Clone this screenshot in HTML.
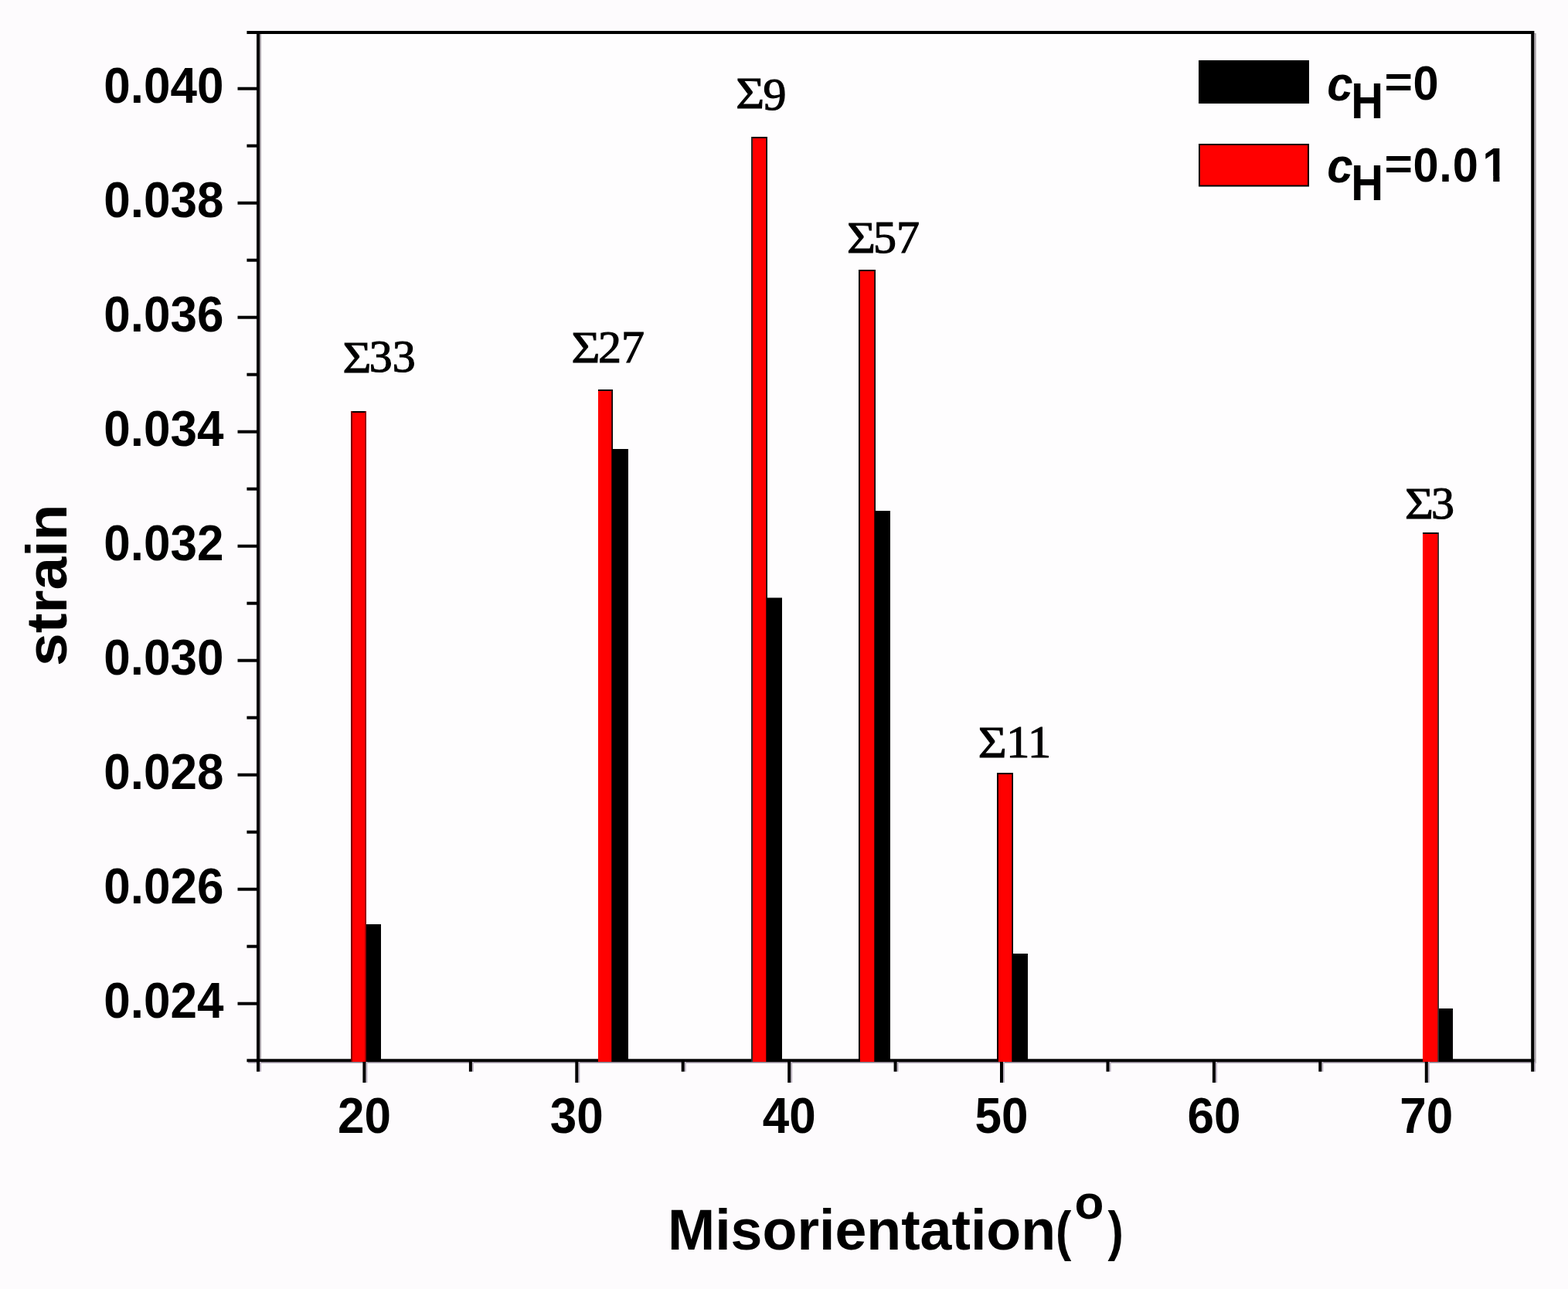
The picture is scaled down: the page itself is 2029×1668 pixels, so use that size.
<!DOCTYPE html>
<html><head><meta charset="utf-8"><title>strain vs misorientation</title>
<style>html,body{margin:0;padding:0;background:#fdfbfd;}svg{display:block;}</style>
</head><body>
<svg width="2029" height="1668" viewBox="0 0 2029 1668">
<rect x="0" y="0" width="2029" height="1668" fill="#fdfbfd"/>
<rect x="334.0" y="42.0" width="1649.2" height="1330.3" fill="#fefdfe"/>
<rect x="336.0" y="42.0" width="2" height="1334.0" fill="#a8a2a8"/>
<rect x="1985.2" y="43.0" width="2.5" height="1333.0" fill="#a8a2a8"/>
<rect x="321" y="1374" width="1664.2" height="2" fill="#bdb4c2"/>
<rect x="332.0" y="40.0" width="4" height="1334.3" fill="#000"/>
<rect x="1981.2" y="40.0" width="4" height="1334.3" fill="#000"/>
<rect x="332.0" y="40.0" width="1653.2" height="4" fill="#000"/>
<rect x="332.0" y="1370.3" width="1653.2" height="4" fill="#000"/>
<rect x="454" y="532" width="20" height="842" fill="#ff0000"/>
<rect x="454" y="532" width="20" height="2" fill="#000"/>
<rect x="454" y="532" width="2" height="842" fill="#7a0000"/>
<rect x="472.3" y="532" width="1.7" height="842" fill="#8a0000"/>
<rect x="474" y="1196" width="19" height="178" fill="#000"/>
<rect x="774" y="504" width="19" height="870" fill="#ff0000"/>
<rect x="774" y="504" width="19" height="2" fill="#000"/>
<rect x="791.3" y="504" width="1.7" height="870" fill="#000"/>
<rect x="793" y="581" width="20" height="793" fill="#000"/>
<rect x="972" y="177" width="21" height="1197" fill="#ff0000"/>
<rect x="972" y="177" width="21" height="2" fill="#000"/>
<rect x="972" y="177" width="2" height="1197" fill="#2a2a2a"/>
<rect x="991.3" y="177" width="1.7" height="1197" fill="#000"/>
<rect x="993" y="773.5" width="19" height="600.5" fill="#000"/>
<rect x="1111" y="349" width="22" height="1025" fill="#ff0000"/>
<rect x="1111" y="349" width="22" height="2" fill="#000"/>
<rect x="1111" y="349" width="2" height="1025" fill="#000"/>
<rect x="1131.3" y="349" width="1.7" height="1025" fill="#000"/>
<rect x="1133" y="661" width="19" height="713" fill="#000"/>
<rect x="1290" y="1000" width="21" height="374" fill="#ff0000"/>
<rect x="1290" y="1000" width="21" height="2" fill="#000"/>
<rect x="1290" y="1000" width="2" height="374" fill="#000"/>
<rect x="1309.3" y="1000" width="1.7" height="374" fill="#000"/>
<rect x="1311" y="1234" width="19" height="140" fill="#000"/>
<rect x="1841" y="689" width="21" height="685" fill="#ff0000"/>
<rect x="1841" y="689" width="21" height="2" fill="#000"/>
<rect x="1860.3" y="689" width="1.7" height="685" fill="#303030"/>
<rect x="1862" y="1305" width="18" height="69" fill="#000"/>
<rect x="319.4" y="1370.3" width="14.6" height="4" fill="#000"/>
<rect x="307.5" y="1296.7" width="26.5" height="4" fill="#000"/>
<rect x="319.4" y="1222.7" width="14.6" height="4" fill="#000"/>
<rect x="307.5" y="1148.7" width="26.5" height="4" fill="#000"/>
<rect x="319.4" y="1074.7" width="14.6" height="4" fill="#000"/>
<rect x="307.5" y="1000.7" width="26.5" height="4" fill="#000"/>
<rect x="319.4" y="926.7" width="14.6" height="4" fill="#000"/>
<rect x="307.5" y="852.7" width="26.5" height="4" fill="#000"/>
<rect x="319.4" y="778.7" width="14.6" height="4" fill="#000"/>
<rect x="307.5" y="704.7" width="26.5" height="4" fill="#000"/>
<rect x="319.4" y="630.7" width="14.6" height="4" fill="#000"/>
<rect x="307.5" y="556.7" width="26.5" height="4" fill="#000"/>
<rect x="319.4" y="482.7" width="14.6" height="4" fill="#000"/>
<rect x="307.5" y="408.7" width="26.5" height="4" fill="#000"/>
<rect x="319.4" y="334.7" width="14.6" height="4" fill="#000"/>
<rect x="307.5" y="260.7" width="26.5" height="4" fill="#000"/>
<rect x="319.4" y="186.7" width="14.6" height="4" fill="#000"/>
<rect x="307.5" y="112.7" width="26.5" height="4" fill="#000"/>
<rect x="319.4" y="40.0" width="14.6" height="4" fill="#000"/>
<rect x="336.0" y="1374" width="2" height="12.7" fill="#bdb4c2"/>
<rect x="332.0" y="1374" width="4" height="12.7" fill="#000"/>
<rect x="473.4" y="1374" width="2" height="27" fill="#bdb4c2"/>
<rect x="469.4" y="1374" width="4" height="27" fill="#000"/>
<rect x="610.9" y="1374" width="2" height="12.7" fill="#bdb4c2"/>
<rect x="606.9" y="1374" width="4" height="12.7" fill="#000"/>
<rect x="748.3" y="1374" width="2" height="27" fill="#bdb4c2"/>
<rect x="744.3" y="1374" width="4" height="27" fill="#000"/>
<rect x="885.7" y="1374" width="2" height="12.7" fill="#bdb4c2"/>
<rect x="881.7" y="1374" width="4" height="12.7" fill="#000"/>
<rect x="1023.2" y="1374" width="2" height="27" fill="#bdb4c2"/>
<rect x="1019.2" y="1374" width="4" height="27" fill="#000"/>
<rect x="1160.6" y="1374" width="2" height="12.7" fill="#bdb4c2"/>
<rect x="1156.6" y="1374" width="4" height="12.7" fill="#000"/>
<rect x="1298.0" y="1374" width="2" height="27" fill="#bdb4c2"/>
<rect x="1294.0" y="1374" width="4" height="27" fill="#000"/>
<rect x="1435.5" y="1374" width="2" height="12.7" fill="#bdb4c2"/>
<rect x="1431.5" y="1374" width="4" height="12.7" fill="#000"/>
<rect x="1572.9" y="1374" width="2" height="27" fill="#bdb4c2"/>
<rect x="1568.9" y="1374" width="4" height="27" fill="#000"/>
<rect x="1710.3" y="1374" width="2" height="12.7" fill="#bdb4c2"/>
<rect x="1706.3" y="1374" width="4" height="12.7" fill="#000"/>
<rect x="1847.8" y="1374" width="2" height="27" fill="#bdb4c2"/>
<rect x="1843.8" y="1374" width="4" height="27" fill="#000"/>
<rect x="1985.2" y="1374" width="2" height="12.7" fill="#bdb4c2"/>
<rect x="1981.2" y="1374" width="4" height="12.7" fill="#000"/>
<text transform="translate(289.50,1316.50) scale(1.0,1.04)" font-family="'Liberation Sans', Arial, Helvetica, sans-serif" font-size="62" font-weight="bold" text-anchor="end">0.024</text>
<text transform="translate(289.50,1168.50) scale(1.0,1.04)" font-family="'Liberation Sans', Arial, Helvetica, sans-serif" font-size="62" font-weight="bold" text-anchor="end">0.026</text>
<text transform="translate(289.50,1020.50) scale(1.0,1.04)" font-family="'Liberation Sans', Arial, Helvetica, sans-serif" font-size="62" font-weight="bold" text-anchor="end">0.028</text>
<text transform="translate(289.50,872.50) scale(1.0,1.04)" font-family="'Liberation Sans', Arial, Helvetica, sans-serif" font-size="62" font-weight="bold" text-anchor="end">0.030</text>
<text transform="translate(289.50,724.50) scale(1.0,1.04)" font-family="'Liberation Sans', Arial, Helvetica, sans-serif" font-size="62" font-weight="bold" text-anchor="end">0.032</text>
<text transform="translate(289.50,576.50) scale(1.0,1.04)" font-family="'Liberation Sans', Arial, Helvetica, sans-serif" font-size="62" font-weight="bold" text-anchor="end">0.034</text>
<text transform="translate(289.50,428.50) scale(1.0,1.04)" font-family="'Liberation Sans', Arial, Helvetica, sans-serif" font-size="62" font-weight="bold" text-anchor="end">0.036</text>
<text transform="translate(289.50,280.50) scale(1.0,1.04)" font-family="'Liberation Sans', Arial, Helvetica, sans-serif" font-size="62" font-weight="bold" text-anchor="end">0.038</text>
<text transform="translate(289.50,132.50) scale(1.0,1.04)" font-family="'Liberation Sans', Arial, Helvetica, sans-serif" font-size="62" font-weight="bold" text-anchor="end">0.040</text>
<text transform="translate(471.43,1466.00) scale(1.0,1.04)" font-family="'Liberation Sans', Arial, Helvetica, sans-serif" font-size="62" font-weight="bold" text-anchor="middle">20</text>
<text transform="translate(746.30,1466.00) scale(1.0,1.04)" font-family="'Liberation Sans', Arial, Helvetica, sans-serif" font-size="62" font-weight="bold" text-anchor="middle">30</text>
<text transform="translate(1021.17,1466.00) scale(1.0,1.04)" font-family="'Liberation Sans', Arial, Helvetica, sans-serif" font-size="62" font-weight="bold" text-anchor="middle">40</text>
<text transform="translate(1296.03,1466.00) scale(1.0,1.04)" font-family="'Liberation Sans', Arial, Helvetica, sans-serif" font-size="62" font-weight="bold" text-anchor="middle">50</text>
<text transform="translate(1570.90,1466.00) scale(1.0,1.04)" font-family="'Liberation Sans', Arial, Helvetica, sans-serif" font-size="62" font-weight="bold" text-anchor="middle">60</text>
<text transform="translate(1845.77,1466.00) scale(1.0,1.04)" font-family="'Liberation Sans', Arial, Helvetica, sans-serif" font-size="62" font-weight="bold" text-anchor="middle">70</text>
<text transform="translate(86.00,757.20) rotate(-90) scale(1.037,1.0)" font-family="'Liberation Sans', Arial, Helvetica, sans-serif" font-size="74.2" font-weight="bold" text-anchor="middle">strain</text>
<text transform="translate(864.00,1617.30) scale(1.0,1.02)" font-family="'Liberation Sans', Arial, Helvetica, sans-serif" font-size="73.5" font-weight="bold">Misorientation</text>
<text transform="translate(1365.96,1617.30) scale(0.83,0.965)" font-family="'Liberation Sans', Arial, Helvetica, sans-serif" font-size="73.5" font-weight="bold">(</text>
<text transform="translate(1390.50,1577.20)" font-family="'Liberation Sans', Arial, Helvetica, sans-serif" font-size="62" font-weight="bold">o</text>
<text transform="translate(1433.44,1617.30) scale(0.83,0.965)" font-family="'Liberation Sans', Arial, Helvetica, sans-serif" font-size="73.5" font-weight="bold">)</text>
<text transform="translate(443.57,481.75) scale(1.06,0.95)" font-family="'Liberation Serif', 'Times New Roman', serif" font-size="60" stroke="#000" stroke-width="1.1">Σ</text>
<text transform="translate(477.73,481.30)" font-family="'Liberation Serif', 'Times New Roman', serif" font-size="60" stroke="#000" stroke-width="1.2">33</text>
<text transform="translate(739.57,469.05) scale(1.06,0.95)" font-family="'Liberation Serif', 'Times New Roman', serif" font-size="60" stroke="#000" stroke-width="1.1">Σ</text>
<text transform="translate(774.06,469.00)" font-family="'Liberation Serif', 'Times New Roman', serif" font-size="60" stroke="#000" stroke-width="1.2">27</text>
<text transform="translate(952.37,140.35) scale(1.06,0.95)" font-family="'Liberation Serif', 'Times New Roman', serif" font-size="60" stroke="#000" stroke-width="1.1">Σ</text>
<text transform="translate(987.57,141.50)" font-family="'Liberation Serif', 'Times New Roman', serif" font-size="60" stroke="#000" stroke-width="1.2">9</text>
<text transform="translate(1096.07,327.15) scale(1.06,0.95)" font-family="'Liberation Serif', 'Times New Roman', serif" font-size="60" stroke="#000" stroke-width="1.1">Σ</text>
<text transform="translate(1130.01,326.90)" font-family="'Liberation Serif', 'Times New Roman', serif" font-size="60" stroke="#000" stroke-width="1.2">57</text>
<text transform="translate(1265.77,980.35) scale(1.06,0.95)" font-family="'Liberation Serif', 'Times New Roman', serif" font-size="60" stroke="#000" stroke-width="1.1">Σ</text>
<text transform="translate(1302.13,980.30)" font-family="'Liberation Serif', 'Times New Roman', serif" font-size="60" stroke="#000" stroke-width="1.2">11</text>
<text transform="translate(1817.97,670.55) scale(1.06,0.95)" font-family="'Liberation Serif', 'Times New Roman', serif" font-size="60" stroke="#000" stroke-width="1.1">Σ</text>
<text transform="translate(1851.93,670.90)" font-family="'Liberation Serif', 'Times New Roman', serif" font-size="60" stroke="#000" stroke-width="1.2">3</text>
<rect x="1551" y="78" width="143" height="56" fill="#000"/>
<rect x="1551" y="186" width="143" height="55.5" fill="#000"/>
<rect x="1553" y="188" width="139" height="51.5" fill="#ff0000"/>
<defs><clipPath id="one" clipPathUnits="userSpaceOnUse"><rect x="-10" y="-80" width="60" height="73.03"/><rect x="13.89" y="-7.07" width="8.16" height="12.07"/></clipPath></defs>
<text transform="translate(1717.20,129.50) scale(1.0,1.05)" font-family="'Liberation Sans', Arial, Helvetica, sans-serif" font-size="60" font-weight="bold" font-style="italic">c</text>
<text transform="translate(1748.20,152.50) scale(0.965,1.07)" font-family="'Liberation Sans', Arial, Helvetica, sans-serif" font-size="60" font-weight="bold">H</text>
<text transform="translate(1791.50,124.70) scale(1.04,0.92)" font-family="'Liberation Sans', Arial, Helvetica, sans-serif" font-size="60" font-weight="bold">=</text>
<text transform="translate(1828.45,128.50) scale(1.0,1.064)" font-family="'Liberation Sans', Arial, Helvetica, sans-serif" font-size="59.5" font-weight="bold">0</text>
<text transform="translate(1717.20,236.20) scale(1.0,1.05)" font-family="'Liberation Sans', Arial, Helvetica, sans-serif" font-size="60" font-weight="bold" font-style="italic">c</text>
<text transform="translate(1748.20,259.20) scale(0.965,1.07)" font-family="'Liberation Sans', Arial, Helvetica, sans-serif" font-size="60" font-weight="bold">H</text>
<text transform="translate(1791.50,231.40) scale(1.04,0.92)" font-family="'Liberation Sans', Arial, Helvetica, sans-serif" font-size="60" font-weight="bold">=</text>
<text transform="translate(1828.45,235.20) scale(1,1.064)" font-family="'Liberation Sans', Arial, Helvetica, sans-serif" font-weight="bold" font-size="59.5" letter-spacing="0.8">0.0</text>
<text transform="translate(1918.35,235.20) scale(1,1.064)" font-family="'Liberation Sans', Arial, Helvetica, sans-serif" font-weight="bold" font-size="59.5" clip-path="url(#one)">1</text>
</svg>
</body></html>
